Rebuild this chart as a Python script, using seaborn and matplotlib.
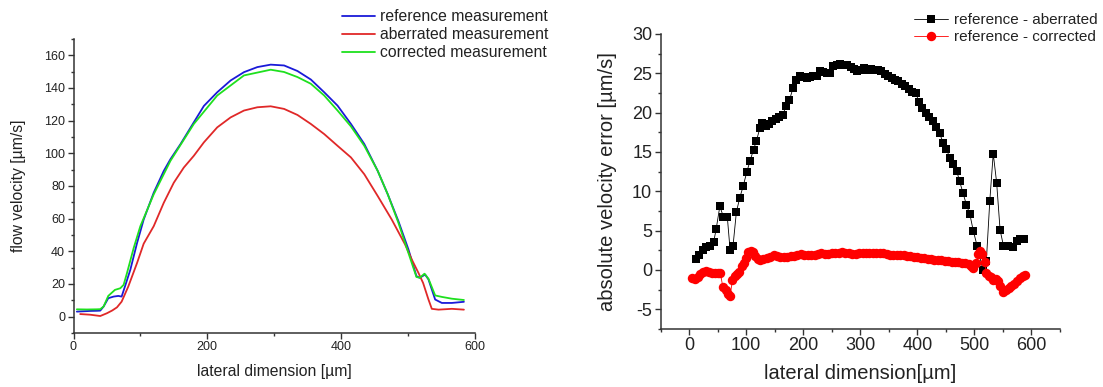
import numpy as np
import pandas as pd
import matplotlib
matplotlib.use('Agg')
import matplotlib.pyplot as plt
from matplotlib.ticker import MultipleLocator
import seaborn as sns

# left panel: flow velocity profiles
ref_x = [5, 15, 25, 35, 40, 45, 52, 60, 67, 72, 77, 85, 95, 105, 120, 135, 145, 160, 180, 195,
         215, 235, 255, 275, 295, 315, 335, 355, 375, 395, 415, 435, 455, 470, 486, 501, 513,
         518, 526, 531, 541, 551, 566, 584]
ref_y = [3.1, 3.3, 3.5, 3.6, 3.7, 6.2, 11.3, 12.3, 12.7, 12.3, 18.5, 28.7, 45, 59.5, 75.9, 89.2,
         96.4, 105.6, 119, 129, 137.4, 144.6, 149.7, 152.8, 154.3, 153.8, 150.4, 145.2, 137.4,
         129.2, 118, 105.7, 89.3, 75, 58.5, 41.2, 24.8, 23.8, 25.8, 22.8, 10.5, 8.4, 8.4, 9.1]

abr_x = [10, 25, 40, 50, 58, 65, 72, 82, 95, 105, 120, 135, 150, 165, 180, 195, 215, 235, 255,
         275, 295, 315, 335, 355, 375, 395, 415, 435, 455, 476, 496, 506, 516, 523, 531, 536,
         546, 566, 584]
abr_y = [1.6, 1.2, 0.4, 2.1, 3.8, 5.7, 9.2, 18.5, 32.8, 44.7, 55.4, 69.7, 82, 91.3, 98.5, 106.7,
         115.9, 122, 126.2, 128.2, 128.8, 127.2, 123.5, 118, 111.8, 104.6, 97.5, 87.2, 73.9,
         59.5, 44.2, 35, 26.8, 20.6, 10.5, 4.8, 4.3, 4.8, 4.3]

cor_x = [5, 20, 35, 40, 45, 52, 62, 70, 75, 80, 90, 100, 120, 145, 180, 215, 255, 295, 315, 335,
         355, 375, 395, 415, 435, 455, 470, 486, 501, 513, 518, 525, 531, 541, 551, 566, 584]
cor_y = [4.5, 4.4, 4.5, 4.6, 6.2, 12.7, 16.4, 17.4, 19.5, 26.7, 42, 55.4, 74.9, 95.4, 118, 135.4,
         147.7, 151.2, 149.8, 146.7, 142.6, 135.4, 126.2, 116.5, 104.6, 89.3, 75, 57.5, 39,
         24.3, 23.8, 26.3, 23.2, 13, 12.1, 11, 10.2]

# right panel: velocity error
err_ab_x = [12, 18, 24, 30, 37, 43, 47.5, 54, 60, 67, 72, 77, 83, 89, 95, 101, 107, 113, 118, 124,
            128, 134, 140, 146, 152, 158, 164, 170, 176, 182, 188, 194, 200, 206, 212, 218, 224,
            229, 235, 241, 247, 253, 259, 265, 271, 277, 283, 289, 295, 301, 307, 313, 319, 325,
            331, 337, 343, 349, 355, 361, 367, 373, 379, 385, 391, 397, 403, 409, 415, 421, 427,
            433, 439, 445, 451, 457, 463, 469, 474, 480, 486, 492, 498, 505, 515, 521, 527, 533,
            539, 545, 551, 559, 568, 574, 580, 587]
err_ab_y = [1.4, 1.9, 2.6, 2.9, 3.05, 3.5, 5.2, 8.1, 6.8, 6.8, 2.5, 3.0, 7.4, 9.2, 10.7, 12.4, 13.9,
            15.3, 16.4, 18.0, 18.7, 18.3, 18.6, 18.9, 19.2, 19.4, 19.7, 20.8, 21.6, 23.1, 24.2,
            24.6, 24.5, 24.4, 24.5, 24.6, 24.7, 25.3, 25.2, 25.1, 25.1, 25.9, 26.1, 26.2, 26.1,
            26.0, 25.75, 25.5, 25.3, 25.45, 25.7, 25.45, 25.5, 25.4, 25.45, 25.25, 24.9, 24.7,
            24.4, 24.2, 24.0, 23.7, 23.4, 23.0, 22.65, 22.5, 21.4, 20.6, 19.9, 19.4, 18.9, 18.2,
            17.4, 16.2, 15.4, 14.2, 13.5, 12.6, 11.3, 9.8, 8.3, 7.1, 5.0, 3.0, 0.0, 1.2, 8.8,
            14.8, 11.1, 5.1, 3.05, 3.1, 2.97, 3.7, 4.0, 4.0]

err_co_x = [6, 10, 15, 20, 25, 30, 35, 40, 45, 50, 55, 59, 64, 68, 72, 76, 80, 84, 88, 92, 96, 100,
            104, 108, 112, 116, 120, 125, 130, 136, 142, 148, 154, 160, 166, 172, 178, 184, 190,
            196, 202, 208, 214, 220, 226, 232, 238, 244, 250, 256, 262, 268, 274, 280, 286, 292,
            298, 304, 310, 316, 322, 328, 334, 340, 346, 352, 358, 364, 370, 376, 382, 388, 394,
            400, 406, 412, 418, 424, 430, 436, 442, 448, 454, 460, 466, 472, 478, 484, 490, 494,
            498, 503, 507, 510, 514, 518, 521, 525, 529, 533, 537, 541, 545, 550, 555, 560, 565,
            570, 575, 580, 585, 588]
err_co_y = [-1.0, -1.1, -0.85, -0.5, -0.2, -0.1, -0.2, -0.4, -0.35, -0.35, -0.4, -2.1, -2.6, -3.0,
            -3.3, -1.3, -0.8, -0.5, -0.2, 0.5, 0.9, 1.5, 2.3, 2.45, 2.35, 1.8, 1.45, 1.3, 1.35,
            1.5, 1.65, 1.85, 1.75, 1.6, 1.65, 1.7, 1.75, 1.8, 1.9, 2.0, 1.95, 1.9, 1.85, 1.85,
            2.0, 2.1, 2.05, 2.0, 2.1, 2.1, 2.2, 2.25, 2.2, 2.1, 2.05, 2.0, 2.1, 2.1, 2.15, 2.2,
            2.2, 2.2, 2.2, 2.1, 2.0, 1.95, 1.9, 1.95, 1.9, 1.85, 1.8, 1.75, 1.7, 1.6, 1.5, 1.5,
            1.45, 1.4, 1.3, 1.3, 1.25, 1.15, 1.1, 1.05, 1.05, 1.0, 0.9, 0.85, 0.7, 0.5, 0.3,
            0.85, 2.0, 2.4, 2.0, 1.0, -0.4, -0.7, -0.9, -1.25, -1.1, -1.4, -2.05, -2.75, -2.5,
            -2.3, -2.0, -1.8, -1.4, -1.0, -0.7, -0.6]

sns.set_style("ticks")
plt.rcParams['font.family'] = ['Liberation Sans', 'DejaVu Sans']
plt.rcParams['text.color'] = '#222222'
plt.rcParams['axes.labelcolor'] = '#222222'
plt.rcParams['axes.unicode_minus'] = False

W, H = 1103, 387
fig = plt.figure(figsize=(W / 100, H / 100), dpi=100)

def box(l, r, t, b):
    return [l / W, 1 - b / H, (r - l) / W, (b - t) / H]

ax1 = fig.add_axes(box(73.5, 474.6, 39, 333))
ax2 = fig.add_axes(box(660.5, 1060, 34, 329))

# left panel
sns.lineplot(x=ref_x, y=ref_y, ax=ax1, color='#1a1ad8', lw=1.3, estimator=None,
             label='reference measurement')
sns.lineplot(x=abr_x, y=abr_y, ax=ax1, color='#e02828', lw=1.3, estimator=None,
             label='aberrated measurement')
sns.lineplot(x=cor_x, y=cor_y, ax=ax1, color='#1ee01e', lw=1.3, estimator=None,
             label='corrected measurement')
ax1.set_xlim(0, 600)
ax1.set_ylim(-10, 170)
ax1.xaxis.set_major_locator(MultipleLocator(200))
ax1.xaxis.set_minor_locator(MultipleLocator(100))
ax1.yaxis.set_major_locator(MultipleLocator(20))
ax1.yaxis.set_minor_locator(MultipleLocator(10))
ax1.set_xlabel('lateral dimension [µm]', fontsize=11.3)
ax1.set_ylabel('flow velocity [µm/s]', fontsize=11.3)
ax1.xaxis.set_label_coords(0.5, -0.105)
ax1.yaxis.set_label_coords(-0.118, 0.5)
ax1.tick_params(which='major', labelsize=9, length=4, width=1, pad=2, colors='#333333')
ax1.tick_params(which='minor', length=2.5, width=1, colors='#333333')
ax1.legend(loc='upper left', bbox_to_anchor=(342 / W, 1 - 9 / H),
           bbox_transform=fig.transFigure, frameon=False, fontsize=11.3,
           handlelength=2.1, handletextpad=0.35, labelspacing=0.2,
           borderpad=0, borderaxespad=0)

# right panel
sns.lineplot(x=err_ab_x, y=err_ab_y, ax=ax2, color='black', lw=0.6, estimator=None,
             marker='s', markersize=5.8, markeredgewidth=0, label='reference - aberrated')
sns.lineplot(x=err_co_x, y=err_co_y, ax=ax2, color='#ff0000', lw=0.6, estimator=None,
             marker='o', markersize=6.8, markeredgewidth=0, label='reference - corrected')
ax2.set_xlim(-50, 650)
ax2.set_ylim(-7.5, 30)
ax2.xaxis.set_major_locator(MultipleLocator(100))
ax2.xaxis.set_minor_locator(MultipleLocator(50))
ax2.yaxis.set_major_locator(MultipleLocator(5))
ax2.yaxis.set_minor_locator(MultipleLocator(2.5))
ax2.set_xlabel('lateral dimension[µm]', fontsize=14.5)
ax2.set_ylabel('absolute velocity error [µm/s]', fontsize=14.5)
ax2.xaxis.set_label_coords(0.5, -0.12)
ax2.yaxis.set_label_coords(-0.11, 0.5)
ax2.tick_params(which='major', labelsize=13, length=4, width=1, pad=2, colors='#333333')
ax2.tick_params(which='minor', length=2.5, width=1, colors='#333333')
ax2.legend(loc='upper left', bbox_to_anchor=(914 / W, 1 - 13 / H),
           bbox_transform=fig.transFigure, frameon=False, fontsize=11,
           handlelength=2.2, handletextpad=0.45, labelspacing=0.2,
           borderpad=0, borderaxespad=0, numpoints=1)

for ax in (ax1, ax2):
    sns.despine(ax=ax)
    for s in ('left', 'bottom'):
        ax.spines[s].set_linewidth(1.1)
        ax.spines[s].set_color('#333333')
    ax.tick_params(axis='both', which='both', labelcolor='#222222')

fig.savefig('out.png', dpi=100)
